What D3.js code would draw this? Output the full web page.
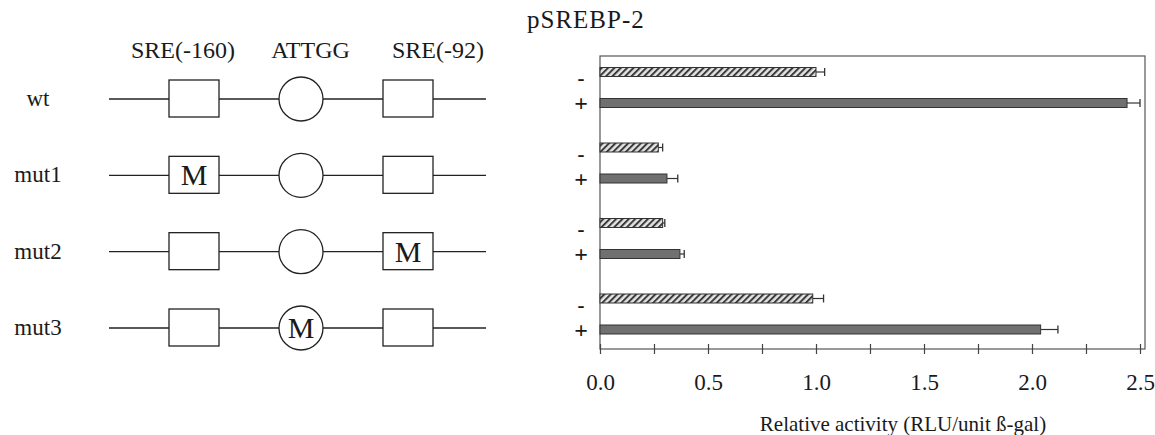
<!DOCTYPE html>
<html lang="en">
<head>
  <meta charset="utf-8">
  <title>pSREBP-2</title>
  <script src="https://d3js.org/d3.v7.min.js"></script>
  <style>
    body { margin: 0; background: #fff; }
    text { font-family: "Liberation Serif", "Times New Roman", serif; fill: #1a1a1a; }
  </style>
</head>
<body>
  <script>
    // constructs and their reporter activity
    var constructs = ["wt", "mut1", "mut2", "mut3"];
    var treatments = ["-", "+"];
    var minusValues = [1.00, 0.27, 0.29, 0.985];
    var minusErrors = [0.04, 0.02, 0.01, 0.05];
    var plusValues = [2.44, 0.31, 0.37, 2.04];
    var plusErrors = [0.06, 0.05, 0.02, 0.08];
    var xTicks = [0, 0.25, 0.5, 0.75, 1, 1.25, 1.5, 1.75, 2, 2.25, 2.5];

    // promoter elements in the schematic
    var elements = ["SRE(-160)", "ATTGG", "SRE(-92)"];
    var elementShapes = ["box", "circle", "box"];
    var mutated = [null, "SRE(-160)", "SRE(-92)", "ATTGG"];

    var width = 1155;
    var height = 435;

    var svg = d3.select("body")
      .append("svg")
      .attr("width", width)
      .attr("height", height);

    var defs = svg.append("defs");
    var hatch = defs.append("pattern")
      .attr("id", "hatch")
      .attr("patternUnits", "userSpaceOnUse")
      .attr("width", 4.5)
      .attr("height", 4.5)
      .attr("patternTransform", "rotate(45)");
    hatch.append("rect").attr("width", 4.5).attr("height", 4.5).attr("fill", "#e4e4e4");
    hatch.append("line")
      .attr("x1", 1).attr("x2", 1).attr("y1", 0).attr("y2", 4.5)
      .attr("stroke", "#3a3a3a").attr("stroke-width", 2);

    /* ---------- left: promoter schematic ---------- */
    var diagram = svg.append("g");

    var rowY = d3.scalePoint().domain(constructs).range([99, 328]);
    var elX = d3.scalePoint().domain(elements).range([194, 408]);
    var headX = d3.scalePoint().domain(elements).range([183, 438]);

    diagram.selectAll("text.head")
      .data(elements)
      .enter()
      .append("text")
      .attr("class", "head")
      .attr("x", function(d) { return headX(d); })
      .attr("y", 58)
      .attr("text-anchor", "middle")
      .attr("font-size", 24)
      .text(function(d) { return d; });

    var rows = diagram.selectAll("g.row")
      .data(constructs)
      .enter()
      .append("g")
      .attr("class", "row")
      .attr("transform", function(d) { return "translate(0," + rowY(d) + ")"; });

    rows.append("text")
      .attr("x", 38)
      .attr("y", 7)
      .attr("text-anchor", "middle")
      .attr("font-size", 23)
      .text(function(d) { return d; });

    rows.append("line")
      .attr("x1", 109).attr("x2", 486)
      .attr("y1", 0).attr("y2", 0)
      .attr("stroke", "#222")
      .attr("stroke-width", 1.3);

    rows.each(function(c, i) {
      var row = d3.select(this);
      elements.forEach(function(el, j) {
        var cx = elX(el);
        if (elementShapes[j] === "box") {
          row.append("rect")
            .attr("x", cx - 25).attr("y", -19)
            .attr("width", 50).attr("height", 37)
            .attr("fill", "#fff").attr("stroke", "#222").attr("stroke-width", 1.3);
        } else {
          row.append("circle")
            .attr("cx", cx).attr("cy", 0).attr("r", 22)
            .attr("fill", "#fff").attr("stroke", "#222").attr("stroke-width", 1.3);
        }
        if (mutated[i] === el) {
          row.append("text")
            .attr("x", cx).attr("y", 10)
            .attr("text-anchor", "middle")
            .attr("font-size", 30)
            .text("M");
        }
      });
    });

    /* ---------- right: bar chart ---------- */
    var plotL = 600, plotR = 1145, plotT = 56, plotB = 349;

    var x = d3.scaleLinear().domain([0, 2.5]).range([plotL, 1140]);
    var yGroup = d3.scaleBand().domain(constructs).range([57, 359]);
    var ySub = d3.scalePoint().domain(treatments).range([15, 46]);
    var barH = 9;

    svg.append("text")
      .attr("x", 527)
      .attr("y", 28)
      .attr("font-size", 25)
      .attr("letter-spacing", 1)
      .text("pSREBP-2");

    // frame
    svg.append("rect")
      .attr("x", plotL).attr("y", plotT)
      .attr("width", plotR - plotL).attr("height", plotB - plotT)
      .attr("fill", "none").attr("stroke", "#555").attr("stroke-width", 1.2);

    var bars = [];
    constructs.forEach(function(c, i) {
      bars.push({ c: c, t: "-", v: minusValues[i], e: minusErrors[i] });
      bars.push({ c: c, t: "+", v: plusValues[i], e: plusErrors[i] });
    });
    function cy(d) { return yGroup(d.c) + ySub(d.t); }

    var chart = svg.append("g");

    chart.selectAll("line.err")
      .data(bars)
      .enter()
      .append("line")
      .attr("class", "err")
      .attr("x1", function(d) { return x(d.v); })
      .attr("x2", function(d) { return x(d.v + d.e); })
      .attr("y1", cy).attr("y2", cy)
      .attr("stroke", "#333").attr("stroke-width", 1.2);

    chart.selectAll("line.cap")
      .data(bars)
      .enter()
      .append("line")
      .attr("class", "cap")
      .attr("x1", function(d) { return x(d.v + d.e); })
      .attr("x2", function(d) { return x(d.v + d.e); })
      .attr("y1", function(d) { return cy(d) - 4; })
      .attr("y2", function(d) { return cy(d) + 4; })
      .attr("stroke", "#333").attr("stroke-width", 1.3);

    chart.selectAll("rect.bar")
      .data(bars)
      .enter()
      .append("rect")
      .attr("class", "bar")
      .attr("x", x(0))
      .attr("y", function(d) { return cy(d) - barH / 2; })
      .attr("width", function(d) { return x(d.v) - x(0); })
      .attr("height", barH)
      .attr("fill", function(d) { return d.t === "-" ? "url(#hatch)" : "#707070"; })
      .attr("stroke", "#333")
      .attr("stroke-width", 1);

    chart.selectAll("text.sign")
      .data(bars)
      .enter()
      .append("text")
      .attr("class", "sign")
      .attr("x", 581)
      .attr("y", function(d) { return cy(d) + (d.t === "-" ? 13 : 8); })
      .attr("text-anchor", "middle")
      .attr("font-size", function(d) { return d.t === "-" ? 21 : 24; })
      .attr("font-weight", "bold")
      .text(function(d) { return d.t; });

    // x axis
    var xAxis = d3.axisBottom(x)
      .tickValues(xTicks)
      .tickSize(5)
      .tickPadding(20)
      .tickFormat(function(d) { return d % 0.5 === 0 ? d3.format(".1f")(d) : ""; });

    var axisG = svg.append("g")
      .attr("transform", "translate(0," + plotB + ")")
      .call(xAxis);
    axisG.select(".domain").remove();
    axisG.selectAll(".tick line")
      .attr("y1", -5).attr("y2", 5)
      .attr("stroke", "#444").attr("stroke-width", 1.2);
    axisG.selectAll(".tick text")
      .attr("font-family", "Liberation Serif, Times New Roman, serif")
      .attr("font-size", 23)
      .attr("fill", "#1a1a1a");

    svg.append("text")
      .attr("x", 903)
      .attr("y", 431)
      .attr("text-anchor", "middle")
      .attr("font-size", 21)
      .text("Relative activity (RLU/unit ß-gal)");
  </script>
</body>
</html>
